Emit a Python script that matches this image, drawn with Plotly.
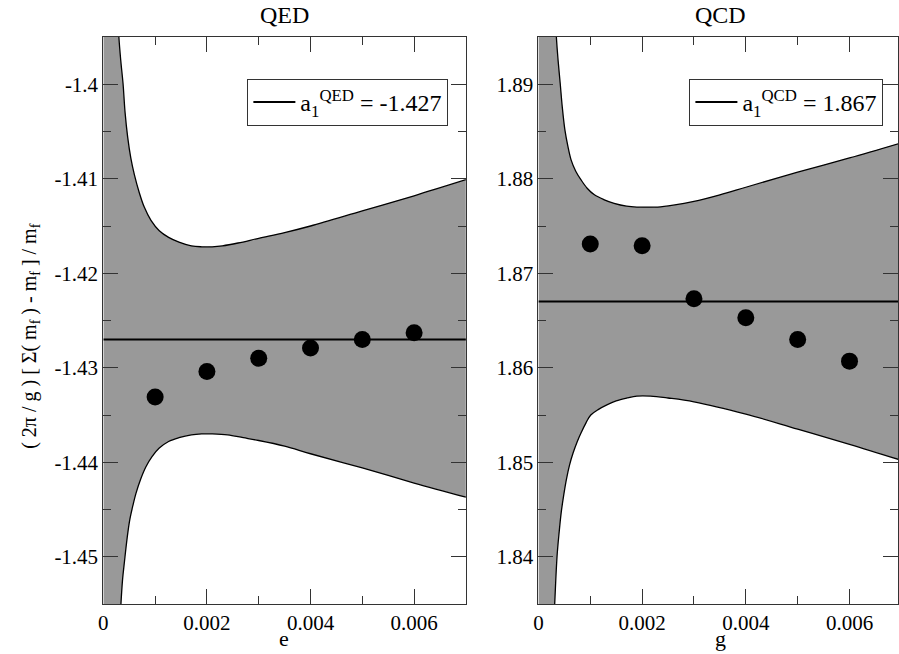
import plotly.graph_objects as go

# ---------------- data ----------------
coupling = [0.001, 0.002, 0.003, 0.004, 0.005, 0.006]
qed_values = [-1.4331, -1.4304, -1.4290, -1.4279, -1.4270, -1.4263]
qcd_values = [1.8731, 1.8729, 1.8673, 1.8653, 1.8630, 1.8607]

qed_a1 = -1.427
qcd_a1 = 1.867
fit_x = [0.0, 0.007]

# error band boundaries (end points lie off the visible range)
qed_up_x = [0.0, 0.00024, 0.0003, 0.00034, 0.00038, 0.00042, 0.00047, 0.00053, 0.0006, 0.00069, 0.00079, 0.00092, 0.00108, 0.00126, 0.00146, 0.0017, 0.0019, 0.0021, 0.0023, 0.0026, 0.003, 0.0035, 0.004, 0.005, 0.006, 0.007]
qed_up_y = [-1.36, -1.388, -1.395, -1.3977, -1.3999, -1.4030, -1.4056, -1.4078, -1.4096, -1.4114, -1.4130, -1.4144, -1.4155, -1.4162, -1.4167, -1.4171, -1.4172, -1.4172, -1.4171, -1.4168, -1.4163, -1.4157, -1.4150, -1.4134, -1.4118, -1.4101]
qed_lo_x = [0.0, 0.00027, 0.00034, 0.00037, 0.00041, 0.00046, 0.00051, 0.00057, 0.00063, 0.00072, 0.00082, 0.00094, 0.00108, 0.00126, 0.00146, 0.0017, 0.0019, 0.0021, 0.0024, 0.0027, 0.003, 0.0035, 0.004, 0.005, 0.006, 0.007]
qed_lo_y = [-1.49, -1.463, -1.455, -1.4525, -1.4504, -1.4480, -1.4461, -1.4446, -1.4433, -1.4418, -1.4405, -1.4394, -1.4385, -1.4378, -1.4374, -1.4371, -1.4370, -1.4370, -1.4371, -1.4374, -1.4377, -1.4383, -1.4391, -1.4406, -1.4422, -1.4437]

qcd_up_x = [0.0, 0.00028, 0.000345, 0.00038, 0.00042, 0.00046, 0.00051, 0.00057, 0.00063, 0.00072, 0.00082, 0.00094, 0.00108, 0.00126, 0.00146, 0.0017, 0.0019, 0.0021, 0.0023, 0.0026, 0.003, 0.0035, 0.004, 0.005, 0.006, 0.007]
qcd_up_y = [1.93, 1.903, 1.8951, 1.8925, 1.8901, 1.8876, 1.8852, 1.8834, 1.8820, 1.8808, 1.8799, 1.8790, 1.8783, 1.8778, 1.8774, 1.8771, 1.8770, 1.8770, 1.8770, 1.8772, 1.8776, 1.8783, 1.8791, 1.8807, 1.8822, 1.8838]
qcd_lo_x = [0.0, 0.00025, 0.000314, 0.00036, 0.0004, 0.00044, 0.00049, 0.00054, 0.0006, 0.00067, 0.00075, 0.00083, 0.00092, 0.00101, 0.00116, 0.00133, 0.0015, 0.00171, 0.0019, 0.00216, 0.0025, 0.003, 0.004, 0.005, 0.006, 0.007]
qcd_lo_y = [1.80, 1.827, 1.8350, 1.8401, 1.8426, 1.8447, 1.8466, 1.8482, 1.8497, 1.8510, 1.8522, 1.8532, 1.8542, 1.8550, 1.8556, 1.8561, 1.8565, 1.8568, 1.8570, 1.8570, 1.8568, 1.8564, 1.8551, 1.8535, 1.8519, 1.8502]

x_tickvals = [0, 0.002, 0.004, 0.006]
x_ticktext = ["0", "0.002", "0.004", "0.006"]
qed_tickvals = [-1.45, -1.44, -1.43, -1.42, -1.41, -1.40]
qed_ticktext = ["-1.45", "-1.44", "-1.43", "-1.42", "-1.41", "-1.4"]
qcd_tickvals = [1.84, 1.85, 1.86, 1.87, 1.88, 1.89]
qcd_ticktext = ["1.84", "1.85", "1.86", "1.87", "1.88", "1.89"]

# ---------------- figure ----------------
W, H = 899, 654
FONT = "Liberation Serif, Times New Roman, serif"
GREY = "rgb(153,153,153)"

fig = go.Figure()


def add_panel(xa, ya, up_x, up_y, lo_x, lo_y, vals, a1, label, legend):
    fig.add_trace(go.Scatter(
        x=up_x, y=up_y, mode="lines",
        line=dict(color="black", width=1.3, shape="spline", smoothing=1.0),
        xaxis=xa, yaxis=ya, showlegend=False, hoverinfo="skip"))
    fig.add_trace(go.Scatter(
        x=lo_x, y=lo_y, mode="lines", fill="tonexty", fillcolor=GREY,
        line=dict(color="black", width=1.3, shape="spline", smoothing=1.0),
        xaxis=xa, yaxis=ya, showlegend=False, hoverinfo="skip"))
    fig.add_trace(go.Scatter(
        x=fit_x, y=[a1] * len(fit_x), mode="lines",
        line=dict(color="black", width=2),
        name=label, legend=legend, xaxis=xa, yaxis=ya, showlegend=True))
    fig.add_trace(go.Scatter(
        x=coupling, y=vals, mode="markers",
        marker=dict(color="black", size=17),
        xaxis=xa, yaxis=ya, showlegend=False))


add_panel("x", "y", qed_up_x, qed_up_y, qed_lo_x, qed_lo_y, qed_values, qed_a1,
          "a<sub>1</sub><sup>QED</sup> = -1.427", "legend")
add_panel("x2", "y2", qcd_up_x, qcd_up_y, qcd_lo_x, qcd_lo_y, qcd_values, qcd_a1,
          "a<sub>1</sub><sup>QCD</sup> = 1.867", "legend2")

y_dom = [1 - 604 / H, 1 - 37 / H]
common = dict(showline=True, linecolor="#333", linewidth=1, mirror="ticks",
              ticks="inside", ticklen=15, tickcolor="#333", tickwidth=1,
              showgrid=False, zeroline=False,
              tickfont=dict(family=FONT, size=21, color="black"))

fig.update_layout(
    width=W, height=H,
    margin=dict(l=0, r=0, t=0, b=0),
    paper_bgcolor="white", plot_bgcolor="white",
    font=dict(family=FONT, color="black"),
    xaxis=dict(domain=[99 / W, 464 / W], range=[0, 0.007], anchor="y",
               tickmode="array", tickvals=x_tickvals, ticktext=x_ticktext,
               minor=dict(tickmode="linear", tick0=0, dtick=0.001, ticks="inside",
                          ticklen=8, tickcolor="#333"),
               **common),
    yaxis=dict(domain=y_dom, range=[-1.455, -1.395], anchor="x",
               tickmode="array", tickvals=qed_tickvals, ticktext=qed_ticktext,
               minor=dict(tickmode="linear", tick0=0, dtick=0.005, ticks="inside",
                          ticklen=8, tickcolor="#333"),
               **common),
    xaxis2=dict(domain=[537 / W, 1.0], range=[0, 0.006935], anchor="y2",
                tickmode="array", tickvals=x_tickvals, ticktext=x_ticktext,
                minor=dict(tickmode="linear", tick0=0, dtick=0.001, ticks="inside",
                           ticklen=8, tickcolor="#333"),
                **common),
    yaxis2=dict(domain=y_dom, range=[1.835, 1.895], anchor="x2",
                tickmode="array", tickvals=qcd_tickvals, ticktext=qcd_ticktext,
                minor=dict(tickmode="linear", tick0=0, dtick=0.005, ticks="inside",
                           ticklen=8, tickcolor="#333"),
                **common),
    legend=dict(x=244 / W, y=1 - 79 / H, xanchor="left", yanchor="top",
                bgcolor="white", bordercolor="#333", borderwidth=1, itemwidth=42,
                font=dict(family=FONT, size=24, color="black")),
    legend2=dict(x=689 / W, y=1 - 79 / H, xanchor="left", yanchor="top",
                 bgcolor="white", bordercolor="#333", borderwidth=1, itemwidth=42,
                 font=dict(family=FONT, size=24, color="black")),
    showlegend=True,
)

ann = [
    dict(text="QED", x=281 / W, y=1 - 15 / H, size=24),
    dict(text="QCD", x=720 / W, y=1 - 15 / H, size=24),
    dict(text="e", x=281 / W, y=1 - 638 / H, size=22),
    dict(text="g", x=720 / W, y=1 - 638 / H, size=22),
]
for a in ann:
    fig.add_annotation(text=a["text"], x=a["x"], y=a["y"], xref="paper", yref="paper",
                       showarrow=False, xanchor="center", yanchor="middle",
                       font=dict(family=FONT, size=a["size"], color="black"))

fig.add_annotation(
    text="( 2π / g ) [ Σ( m<sub>f</sub> ) - m<sub>f</sub> ] / m<sub>f</sub>",
    x=25 / W, y=1 - 336 / H, xref="paper", yref="paper", showarrow=False,
    textangle=-90, xanchor="center", yanchor="middle",
    font=dict(family=FONT, size=20, color="black"))

fig.write_html("out.html", config={"displayModeBar": False},
               post_script="document.body.style.margin='0';document.body.style.overflow='hidden';")
